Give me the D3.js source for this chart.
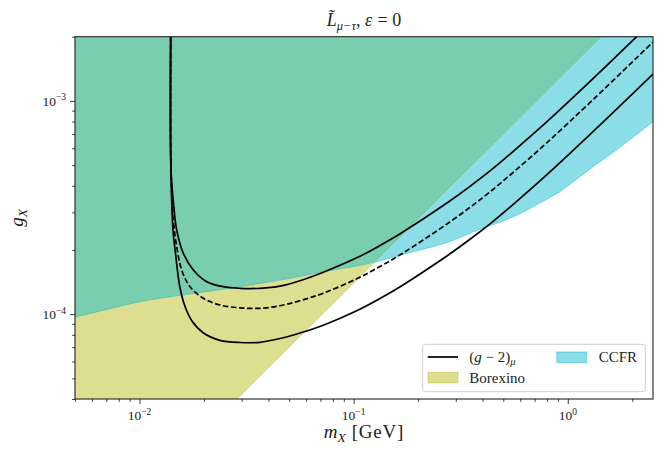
<!DOCTYPE html>
<html>
<head>
<meta charset="utf-8">
<script src="https://cdn.jsdelivr.net/npm/d3@7"></script>
<style>
body { margin: 0; background: #fff; }
svg { display: block; font-family: "Liberation Serif", "DejaVu Serif", serif; }
</style>
</head>
<body>
<div id="chart"></div>
<script>
// (g-2)_mu band: m_X in GeV, g_X
const g2UpperM = [0.01399, 0.014035, 0.014387, 0.014923, 0.01602, 0.01784, 0.020603, 0.024628, 0.029465, 0.036541, 0.045308, 0.056188, 0.072195, 0.10336, 0.13277, 0.16429, 0.21105, 0.27151, 0.34951, 0.4333, 0.5567, 0.79697, 1.3155, 2.098];
const g2UpperG = [2.0e-3, 4.742e-4, 3.386e-4, 2.48e-4, 1.929e-4, 1.61e-4, 1.42e-4, 1.345e-4, 1.322e-4, 1.322e-4, 1.352e-4, 1.435e-4, 1.5725e-4, 1.8368e-4, 2.0976e-4, 2.3753e-4, 2.793e-4, 3.3091e-4, 3.9756e-4, 4.6946e-4, 5.8026e-4, 7.9676e-4, 1.2746e-3, 2.0e-3];

const g2CentralM = [0.01399, 0.014035, 0.014387, 0.014923, 0.015745, 0.017215, 0.019863, 0.023768, 0.029465, 0.036541, 0.045308, 0.056188, 0.072195, 0.10336, 0.13277, 0.16429, 0.21105, 0.27151, 0.34951, 0.4333, 0.5567, 0.79697, 1.3155, 2.5];
const g2CentralG = [2.0e-3, 4.742e-4, 2.763e-4, 2.0714e-4, 1.61e-4, 1.345e-4, 1.1869e-4, 1.1034e-4, 1.0706e-4, 1.0648e-4, 1.0952e-4, 1.1562e-4, 1.2537e-4, 1.4644e-4, 1.6723e-4, 1.8937e-4, 2.2267e-4, 2.6382e-4, 3.1696e-4, 3.7428e-4, 4.6262e-4, 6.3522e-4, 1.0162e-3, 1.8885e-3];

const g2LowerM = [0.01399, 0.014035, 0.014341, 0.014732, 0.015379, 0.016228, 0.01759, 0.019906, 0.023768, 0.029465, 0.036541, 0.045308, 0.056188, 0.072195, 0.10336, 0.13277, 0.16429, 0.21105, 0.27151, 0.34951, 0.4333, 0.5567, 0.79697, 1.3155, 2.5];
const g2LowerG = [2.0e-3, 4.742e-4, 2.48e-4, 1.929e-4, 1.3697e-4, 1.1034e-4, 9.286e-5, 8.155e-5, 7.538e-5, 7.361e-5, 7.377e-5, 7.686e-5, 8.155e-5, 8.874e-5, 1.0366e-4, 1.1837e-4, 1.3405e-4, 1.5762e-4, 1.8674e-4, 2.2436e-4, 2.6494e-4, 3.2747e-4, 4.4964e-4, 7.1932e-4, 1.3368e-3];

// Borexino excluded region lies above/left of this edge
const borexinoM = [0.0285, 0.1, 0.3, 1.0, 1.43];
const borexinoG = [4.0e-5, 1.4e-4, 4.2e-4, 1.4e-3, 2.0e-3];

// CCFR excluded region lies above this edge
const ccfrM = [0.005, 0.010058, 0.012466, 0.029465, 0.050444, 0.072195, 0.10336, 0.13277, 0.19, 0.27151, 0.38027, 0.5567, 0.79697, 0.91975, 1.3649, 1.6316, 2.5];
const ccfrG = [9.665e-5, 1.1438e-4, 1.1869e-4, 1.3449e-4, 1.4723e-4, 1.5813e-4, 1.6813e-4, 1.7803e-4, 1.9627e-4, 2.1627e-4, 2.4803e-4, 2.8624e-4, 3.4555e-4, 3.7591e-4, 5.0593e-4, 5.7404e-4, 7.987e-4];

const xMajorTicks = [0.01, 0.1, 1];
const xTickExponents = ["\u22122", "\u22121", "0"];
const yMajorTicks = [1e-4, 1e-3];
const yTickExponents = ["\u22124", "\u22123"];

const W = 664, H = 460;
const margin = {top: 36.7, right: 11, bottom: 61, left: 75};

const borexinoColor = "#bcbd22", ccfrColor = "#17becf";

const svg = d3.select("#chart").append("svg")
    .attr("width", W)
    .attr("height", H);

const x = d3.scaleLog().domain([0.005, 2.5]).range([margin.left, W - margin.right]);
const y = d3.scaleLog().domain([4e-5, 2e-3]).range([H - margin.bottom, margin.top]);

const xMin = x.domain()[0], xMax = x.domain()[1];
const yMin = y.domain()[0], yMax = y.domain()[1];

svg.append("clipPath").attr("id", "plotclip")
    .append("rect")
    .attr("x", x(xMin)).attr("y", y(yMax))
    .attr("width", x(xMax) - x(xMin))
    .attr("height", y(yMin) - y(yMax));

const plot = svg.append("g").attr("clip-path", "url(#plotclip)");

function zip(ms, gs) {
    return ms.map(function (m, i) { return [m, gs[i]]; });
}

const poly = d3.line().x(d => x(d[0])).y(d => y(d[1]));
const smooth = d3.line().x(d => x(d[0])).y(d => y(d[1])).curve(d3.curveCatmullRom.alpha(0.5));

// Borexino fill
const bxEdge = zip(borexinoM, borexinoG);
plot.append("path")
    .attr("d", poly([[xMin, yMin]].concat(bxEdge, [[xMin, yMax]])) + "Z")
    .attr("fill", borexinoColor)
    .attr("fill-opacity", 0.5);
plot.append("path")
    .attr("d", poly(bxEdge))
    .attr("fill", "none")
    .attr("stroke", borexinoColor)
    .attr("stroke-opacity", 0.5)
    .attr("stroke-width", 1);

// CCFR fill
const ccEdge = zip(ccfrM, ccfrG);
plot.append("path")
    .attr("d", smooth(ccEdge) + "L" + x(xMax) + "," + y(yMax) + "L" + x(xMin) + "," + y(yMax) + "Z")
    .attr("fill", ccfrColor)
    .attr("fill-opacity", 0.5);
plot.append("path")
    .attr("d", smooth(ccEdge))
    .attr("fill", "none")
    .attr("stroke", ccfrColor)
    .attr("stroke-opacity", 0.5)
    .attr("stroke-width", 1);

// (g-2) band lines
[[g2UpperM, g2UpperG, null], [g2CentralM, g2CentralG, "5.5,2.6"], [g2LowerM, g2LowerG, null]].forEach(function (c) {
    plot.append("path")
        .attr("d", smooth(zip(c[0], c[1])))
        .attr("fill", "none")
        .attr("stroke", "#000")
        .attr("stroke-width", 1.7)
        .attr("stroke-dasharray", c[2]);
});

// minor ticks 2..9 per decade
function minorTicks(lo, hi) {
    let out = [];
    for (let e = Math.floor(Math.log10(lo)); e <= Math.ceil(Math.log10(hi)); e++) {
        for (let k = 2; k <= 9; k++) {
            let v = k * Math.pow(10, e);
            if (v >= lo * 0.999 && v <= hi * 1.001) out.push(v);
        }
    }
    return out;
}

const xAxisY = y(yMin);
svg.append("g")
    .attr("transform", "translate(0," + xAxisY + ")")
    .call(d3.axisBottom(x).tickValues(minorTicks(xMin, xMax)).tickSize(2.8).tickFormat(""))
    .call(g => g.select(".domain").remove());
svg.append("g")
    .attr("transform", "translate(0," + xAxisY + ")")
    .call(d3.axisBottom(x).tickValues(xMajorTicks).tickSize(5).tickFormat(""))
    .call(g => g.select(".domain").remove());
svg.append("g")
    .attr("transform", "translate(" + x(xMin) + ",0)")
    .call(d3.axisLeft(y).tickValues(minorTicks(yMin, yMax)).tickSize(2.8).tickFormat(""))
    .call(g => g.select(".domain").remove());
svg.append("g")
    .attr("transform", "translate(" + x(xMin) + ",0)")
    .call(d3.axisLeft(y).tickValues(yMajorTicks).tickSize(5).tickFormat(""))
    .call(g => g.select(".domain").remove());
svg.selectAll(".tick line").attr("stroke", "#222").attr("stroke-width", 0.9);

// tick labels 10^n
xMajorTicks.forEach(function (v, i) {
    const t = svg.append("text")
        .attr("x", x(v)).attr("y", xAxisY + 21)
        .attr("text-anchor", "middle")
        .attr("font-size", 13.5)
        .attr("fill", "#222");
    t.append("tspan").text("10");
    t.append("tspan").attr("dy", -5.5).attr("font-size", 9.5).text(xTickExponents[i]);
});
yMajorTicks.forEach(function (v, i) {
    const t = svg.append("text")
        .attr("x", x(xMin) - 9).attr("y", y(v) + 5)
        .attr("text-anchor", "end")
        .attr("font-size", 13.5)
        .attr("fill", "#222");
    t.append("tspan").text("10");
    t.append("tspan").attr("dy", -5.5).attr("font-size", 9.5).text(yTickExponents[i]);
});

// frame
svg.append("rect")
    .attr("x", x(xMin)).attr("y", y(yMax))
    .attr("width", x(xMax) - x(xMin))
    .attr("height", y(yMin) - y(yMax))
    .attr("fill", "none")
    .attr("stroke", "#222")
    .attr("stroke-width", 1.1);

// axis labels
const cx = (x(xMin) + x(xMax)) / 2;
const xl = svg.append("text")
    .attr("x", cx).attr("y", 438)
    .attr("text-anchor", "middle")
    .attr("font-size", 19)
    .attr("fill", "#222");
xl.append("tspan").attr("font-style", "italic").text("m");
xl.append("tspan").attr("font-style", "italic").attr("font-size", 13.5).attr("dy", 4).text("X");
xl.append("tspan").attr("dy", -4).attr("dx", 6).attr("letter-spacing", 0.8).text("[GeV]");

const yl = svg.append("text")
    .attr("transform", "translate(23," + ((y(yMin) + y(yMax)) / 2) + ") rotate(-90)")
    .attr("text-anchor", "middle")
    .attr("font-size", 19)
    .attr("fill", "#222");
yl.append("tspan").attr("font-style", "italic").text("g");
yl.append("tspan").attr("font-style", "italic").attr("font-size", 13.5).attr("dy", 4).text("X");

// title
const title = svg.append("text")
    .attr("x", cx).attr("y", 25.5)
    .attr("text-anchor", "middle")
    .attr("font-size", 18)
    .attr("fill", "#222");
title.append("tspan").attr("font-style", "italic").text("L\u0303");
title.append("tspan").attr("font-style", "italic").attr("font-size", 12.5).attr("dy", 4).text("\u03bc\u2212\u03c4");
title.append("tspan").attr("dy", -4).text(", ");
title.append("tspan").attr("font-style", "italic").text("\u03b5");
title.append("tspan").attr("dx", 1).text(" = 0");

// legend
const lg = svg.append("g");
lg.append("rect")
    .attr("x", 422.7).attr("y", 344.3)
    .attr("width", 222.6).attr("height", 47.4)
    .attr("rx", 3)
    .attr("fill", "#fff").attr("fill-opacity", 0.8)
    .attr("stroke", "#d0d0d0").attr("stroke-width", 1);

lg.append("line")
    .attr("x1", 427.7).attr("x2", 458).attr("y1", 357).attr("y2", 357)
    .attr("stroke", "#000").attr("stroke-width", 1.7);
const t1 = lg.append("text").attr("x", 469.3).attr("y", 361.5).attr("font-size", 15).attr("fill", "#222");
t1.append("tspan").text("(");
t1.append("tspan").attr("font-style", "italic").text("g");
t1.append("tspan").text(" \u2212 2)");
t1.append("tspan").attr("font-style", "italic").attr("font-size", 10.5).attr("dy", 3.5).text("\u03bc");

lg.append("rect")
    .attr("x", 428.2).attr("y", 372.3).attr("width", 29.8).attr("height", 10.6)
    .attr("fill", borexinoColor).attr("fill-opacity", 0.5)
    .attr("stroke", borexinoColor).attr("stroke-opacity", 0.5);
lg.append("text").attr("x", 469.3).attr("y", 382.5).attr("font-size", 15).attr("fill", "#222").text("Borexino");

lg.append("rect")
    .attr("x", 556.8).attr("y", 352).attr("width", 29.8).attr("height", 10.6)
    .attr("fill", ccfrColor).attr("fill-opacity", 0.5)
    .attr("stroke", ccfrColor).attr("stroke-opacity", 0.5);
lg.append("text").attr("x", 598.7).attr("y", 362.3).attr("font-size", 15).attr("fill", "#222").text("CCFR");
</script>
</body>
</html>
